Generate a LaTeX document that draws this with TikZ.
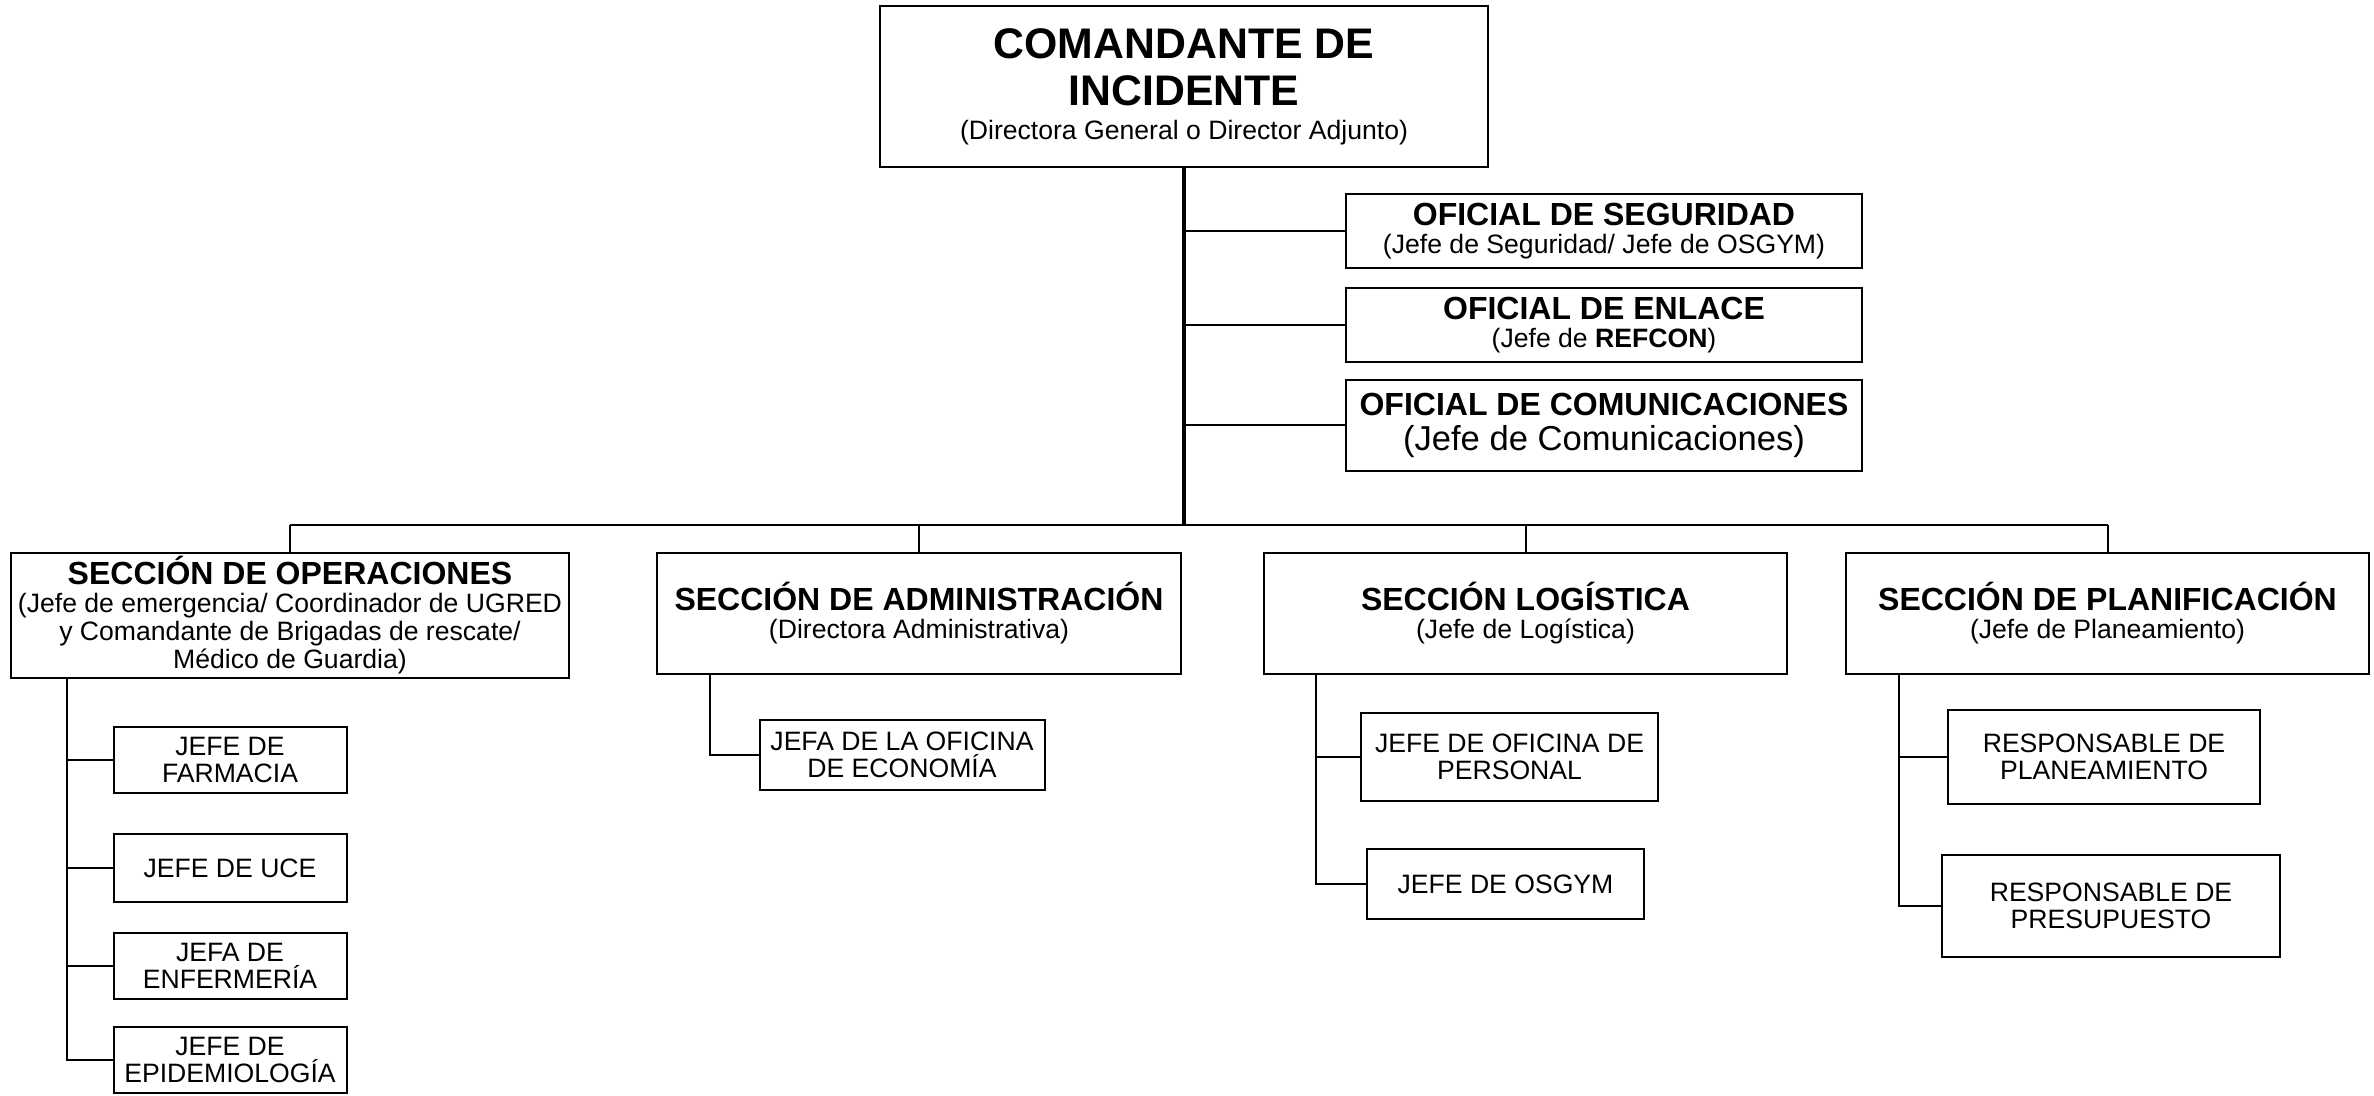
\documentclass[tikz,border=0pt]{standalone}
\usepackage{fontspec}
\setmainfont{Liberation Sans}
\newcommand{\subtxt}{\fontsize{13.3}{14}\selectfont\mdseries}

\begin{document}
\begin{tikzpicture}[
  x=0.5pt, y=-0.5pt,
  box/.style={draw, line width=1pt, inner sep=0pt, align=center},
  chief/.style={box, minimum width=304pt, minimum height=80.5pt,
    font=\fontsize{21.4}{23.6}\selectfont\bfseries},
  officer/.style={box, minimum width=258pt, minimum height=37pt,
    font=\fontsize{16}{13.8}\selectfont\bfseries},
  section/.style={box, minimum width=261.5pt, minimum height=60.5pt,
    font=\fontsize{16}{14}\selectfont\bfseries},
  unit/.style={box, font=\fontsize{13.3}{13.6}\selectfont},
  link/.style={line width=1pt},
  trunk/.style={line width=2pt},
  busline/.style={line width=1.4pt}
]
  \useasboundingbox (0,0) rectangle (2374,1096);

  % Comando
  \node[chief] (chief) at (1184,87) {COMANDANTE DE\\INCIDENTE\\[-6.5pt]\subtxt (Directora General o Director Adjunto)};

  % Staff
  \node[officer] (seg) at (1604,231) {OFICIAL DE SEGURIDAD\\\subtxt (Jefe de Seguridad/ Jefe de OSGYM)};
  \node[officer] (enl) at (1604,325) {OFICIAL DE ENLACE\\\subtxt (Jefe de \textbf{REFCON})};
  \node[officer, minimum height=45.5pt] (com) at (1604,425.5) {OFICIAL DE COMUNICACIONES\\[4pt]\fontsize{17.3}{18}\selectfont\mdseries (Jefe de Comunicaciones)};

  % Secciones
  \node[section, minimum width=279pt, minimum height=62.5pt] (ops) at (290,615.5) {SECCIÓN DE OPERACIONES\\\subtxt (Jefe de emergencia/ Coordinador de UGRED\\\subtxt y Comandante de Brigadas de rescate/\\\subtxt Médico de Guardia)};
  \node[section, minimum width=262pt] (adm) at (919,613.5) {SECCIÓN DE ADMINISTRACIÓN\\\subtxt (Directora Administrativa)};
  \node[section] (log) at (1525.5,613.5) {SECCIÓN LOGÍSTICA\\\subtxt (Jefe de Logística)};
  \node[section] (plan) at (2107.5,613.5) {SECCIÓN DE PLANIFICACIÓN\\\subtxt (Jefe de Planeamiento)};

  % Unidades
  \node[unit, minimum width=116.5pt, minimum height=33pt] (farm) at (230,760) {JEFE DE\\FARMACIA};
  \node[unit, minimum width=116.5pt, minimum height=34pt] (uce) at (230,868) {JEFE DE UCE};
  \node[unit, minimum width=116.5pt, minimum height=33pt] (enf) at (230,966) {JEFA DE\\ENFERMERÍA};
  \node[unit, minimum width=116.5pt, minimum height=33pt] (epi) at (230,1060) {JEFE DE\\EPIDEMIOLOGÍA};
  \node[unit, minimum width=142.5pt, minimum height=35pt] (econ) at (902,755) {JEFA DE LA OFICINA\\DE ECONOMÍA};
  \node[unit, minimum width=148.5pt, minimum height=44pt] (pers) at (1509.5,757) {JEFE DE OFICINA DE\\PERSONAL};
  \node[unit, minimum width=138.5pt, minimum height=35pt] (osg) at (1505.5,884) {JEFE DE OSGYM};
  \node[unit, minimum width=156pt, minimum height=47pt] (plm) at (2104,757) {RESPONSABLE DE\\PLANEAMIENTO};
  \node[unit, minimum width=169pt, minimum height=51pt] (pre) at (2111,906) {RESPONSABLE DE\\PRESUPUESTO};

  % Lineas
  \coordinate (bus) at (1184,525);
  \coordinate (opsx) at (66.6,0);
  \coordinate (admx) at (710,0);
  \coordinate (logx) at (1316,0);
  \coordinate (planx) at (1898.6,0);

  \draw[trunk] (chief.south) -- (chief.south |- bus);
  \foreach \n in {seg,enl,com}
    \draw[link] (chief.south |- \n.west) -- (\n.west);
  \draw[busline] (ops.north |- bus) -- (plan.north |- bus);
  \foreach \n in {ops,adm,log,plan}
    \draw[link] (\n.north |- bus) -- (\n.north);

  \draw[link] (ops.south -| opsx) |- (epi.west);
  \foreach \n in {farm,uce,enf}
    \draw[link] (\n.west -| opsx) -- (\n.west);
  \draw[link] (adm.south -| admx) |- (econ.west);
  \draw[link] (log.south -| logx) |- (osg.west);
  \draw[link] (pers.west -| logx) -- (pers.west);
  \draw[link] (plan.south -| planx) |- (pre.west);
  \draw[link] (plm.west -| planx) -- (plm.west);
\end{tikzpicture}
\end{document}
